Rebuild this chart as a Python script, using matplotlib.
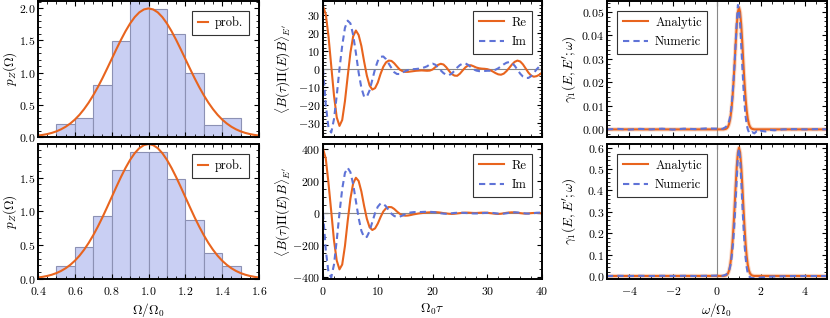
import numpy as np
import matplotlib
matplotlib.use("Agg")
import matplotlib.pyplot as plt
from matplotlib.ticker import MultipleLocator

# ---- data -------------------------------------------------------------
bin_left = [0.5, 0.6, 0.7, 0.8, 0.9, 1.0, 1.1, 1.2, 1.3, 1.4]
hist_top = [0.2, 0.29, 0.8, 1.49, 2.2, 1.99, 1.6, 0.99, 0.19, 0.29]
hist_bot = [0.19, 0.47, 0.93, 1.61, 1.87, 1.87, 1.48, 0.87, 0.39, 0.19]

omega_x = np.arange(0.4, 1.6001, 0.025)
prob = [0.0221, 0.0320, 0.0455, 0.0636, 0.0876, 0.119, 0.159, 0.209, 0.270,
        0.344, 0.432, 0.533, 0.648, 0.775, 0.913, 1.060, 1.210, 1.360, 1.506,
        1.641, 1.761, 1.860, 1.934, 1.979, 1.995, 1.979, 1.934, 1.860, 1.761,
        1.641, 1.506, 1.360, 1.210, 1.060, 0.913, 0.775, 0.648, 0.533, 0.432,
        0.344, 0.270, 0.209, 0.159, 0.119, 0.0876, 0.0636, 0.0455, 0.0320, 0.0221]

tau = np.arange(0, 40.01, 0.5)
re_top = [35, 30.6, 18.2, 1.7, -14.8, -27, -31.8, -28.5, -18, -4.2,
          9.1, 18.2, 21.5, 19, 12.9, 4.2, -3.7, -9.2, -11.5, -10.7,
          -7.6, -2.8, 1.2, 3.7, 4.7, 4.5, 3.2, 1.4, -0.3, -1.2,
          -1.6, -1.6, -1.4, -1.2, -1.0, -0.9, -0.8, -0.9, -1.0, -0.9,
          -0.3, 1.0, 2.3, 2.9, 2.5, 1.0, -1.0, -2.8, -3.7, -3.8,
          -2.6, -0.8, 0.9, 2.0, 2.1, 1.5, 0.8, 0.4, 0.2, 0.1,
          -0.1, -0.6, -1.4, -2.3, -3.0, -3.2, -2.6, -1.2, 0.6, 2.5,
          4.0, 4.7, 4.2, 2.6, 0.3, -2.0, -3.7, -4.3, -4.0, -3.2, -2.0]
im_top = [0, -20, -33, -35.5, -28, -15, 0, 13, 23, 27,
          25.5, 19, 9, -2, -10.5, -15.5, -15.5, -12, -6, 0,
          4.5, 6.8, 7, 5.5, 3, 0.5, -1.8, -2.8, -2.8, -2.0,
          -1.2, -0.6, -0.3, -0.1, 0, 0.2, 0.5, 0.9, 1.5, 2.6,
          3.0, 2.4, 0.9, -0.8, -2.3, -3.2, -3.4, -2.6, -1.0, 0.8,
          2.2, 3.0, 3.1, 2.3, 1.0, -0.2, -0.9, -1.2, -1.2, -1.1,
          -1.0, -1.0, -0.9, -0.4, 0.4, 1.5, 2.6, 3.5, 3.9, 3.4,
          1.8, -0.4, -2.6, -4.2, -5.0, -5.0, -4.0, -2.2, -0.2, 1.4, 2.3]
re_bot = [400, 340, 185, 10, -170, -295, -350, -320, -205, -50,
          90, 185, 220, 200, 135, 45, -35, -88, -105, -95,
          -65, -25, 10, 30, 38, 37, 26, 10, -4, -13,
          -16, -15, -12, -8, -5, -2, 0, 2, 4, 5,
          6, 6, 5, 3, 0, -2, -4, -5, -4, -2,
          0, 2, 3, 3, 2, 1, 1, 2, 3, 3,
          2, 0, -2, -4, -5, -4, -1, 2, 4, 5,
          4, 2, 0, -2, -3, -2, 0, 1, 1, 0, -1]
im_bot = [0, -230, -370, -400, -320, -170, 0, 150, 250, 282,
          255, 180, 75, -30, -110, -150, -148, -112, -55, 0,
          40, 60, 58, 42, 18, -4, -18, -24, -22, -15,
          -7, 0, 4, 6, 7, 7, 7, 8, 8, 8,
          7, 5, 2, -1, -3, -4, -3, -1, 1, 2,
          3, 2, 1, 0, -1, -2, -2, -1, 0, 1,
          2, 2, 1, -1, -3, -4, -3, -1, 2, 4,
          5, 4, 2, 0, -2, -3, -2, 0, 2, 3, 2]

w_an = [-5, 0.3, 0.35, 0.4, 0.45, 0.5, 0.55, 0.6, 0.65, 0.7, 0.75, 0.8, 0.85,
        0.9, 0.95, 1.0, 1.05, 1.1, 1.15, 1.2, 1.25, 1.3, 1.35, 1.4, 1.45, 1.5,
        1.55, 1.6, 1.65, 1.7, 5]
an_top = [0, 0, 0.0001, 0.0002, 0.0005, 0.0011, 0.0023, 0.0044, 0.0079, 0.0130,
          0.0198, 0.0280, 0.0368, 0.0446, 0.0500, 0.0520, 0.0500, 0.0446, 0.0368,
          0.0280, 0.0198, 0.0130, 0.0079, 0.0044, 0.0023, 0.0011, 0.0005, 0.0002,
          0.0001, 0, 0]
an_bot = [0, 0.0003, 0.0012, 0.0023, 0.0056, 0.0126, 0.026, 0.051, 0.091, 0.149,
          0.229, 0.323, 0.424, 0.514, 0.577, 0.600, 0.577, 0.514, 0.424, 0.323,
          0.229, 0.149, 0.091, 0.051, 0.026, 0.0126, 0.0056, 0.0023, 0.0012,
          0.0003, 0]

w_num = [-5, -4.5, -4, -3.5, -3, -2.5, -2, -1.5, -1, -0.5, 0, 0.25, 0.4, 0.5,
         0.55, 0.6, 0.65, 0.7, 0.75, 0.8, 0.85, 0.9, 0.95, 1.0, 1.05, 1.1, 1.15,
         1.2, 1.25, 1.3, 1.35, 1.4, 1.45, 1.5, 1.6, 1.7, 1.8, 1.9, 2.0, 2.2, 2.4,
         2.6, 3, 3.5, 4, 4.5, 5]
num_top = [0.0, 0.0002, -0.0001, 0.0002, 0.0, 0.0003, -0.0001, 0.0003, 0.0001,
           0.0004, 0.0003, 0.0002, 0.001, 0.0022, 0.0035, 0.0055, 0.009, 0.014,
           0.0205, 0.028, 0.037, 0.046, 0.053, 0.051, 0.045, 0.036, 0.027, 0.018,
           0.011, 0.0055, 0.002, 0.0, -0.0012, -0.0018, -0.0012, -0.0017, -0.0008,
           -0.0014, -0.0006, -0.0009, -0.0002, -0.0004, 0.0, 0.0001, 0.0, 0.0001, 0.0]
num_bot = [0, 0.001, 0, 0.001, 0, 0.001, 0, 0.001, 0.0, 0.001, 0.002, 0.001,
           0.006, 0.014, 0.025, 0.045, 0.075, 0.12, 0.18, 0.26, 0.36, 0.46, 0.56,
           0.595, 0.55, 0.45, 0.34, 0.24, 0.15, 0.085, 0.04, 0.012, 0.0, -0.007,
           -0.01, -0.01, -0.009, -0.008, -0.007, -0.005, -0.003, -0.002, -0.001,
           0, 0, 0, 0]

# ---- style ------------------------------------------------------------
plt.rcParams['font.family'] = 'serif'
plt.rcParams['font.serif'] = ['cmr10', 'DejaVu Serif']
plt.rcParams['mathtext.fontset'] = 'cm'
plt.rcParams['axes.formatter.use_mathtext'] = True
plt.rcParams['font.size'] = 9

ORANGE = '#e8641e'
BLUE = '#5f73d7'
BAR = '#c9cff3'
BAREDGE = '#8c91b4'
TICKFS = 8.5
LABFS = 9.5
LEGFS = 9

fig = plt.figure(figsize=(8.3, 3.18), dpi=100)
xs = [0.0458, 0.3892, 0.7313]
ws = [0.2663, 0.2639, 0.2651]
ys = [0.5692, 0.1226]
hs = [0.4277, 0.4245]
axes = [[fig.add_axes([xs[c], ys[r], ws[c], hs[r]]) for c in range(3)] for r in range(2)]


def style(ax, xmaj, xmin, ymaj, ymin):
    ax.xaxis.set_major_locator(MultipleLocator(xmaj))
    ax.xaxis.set_minor_locator(MultipleLocator(xmin))
    ax.yaxis.set_major_locator(MultipleLocator(ymaj))
    ax.yaxis.set_minor_locator(MultipleLocator(ymin))
    ax.tick_params(which='both', direction='in', top=True, right=True,
                   labelsize=TICKFS)
    ax.tick_params(axis='y', pad=2)
    ax.tick_params(axis='x', pad=4.5)
    ax.tick_params(which='major', length=3.5, width=0.8)
    ax.tick_params(which='minor', length=2, width=0.6)
    for s in ax.spines.values():
        s.set_linewidth(1.4)


def legend(ax, loc, hl):
    lg = ax.legend(loc=loc, fontsize=LEGFS, fancybox=False, framealpha=1,
                   edgecolor='#333333', handlelength=hl, borderpad=0.45,
                   labelspacing=0.6, handletextpad=0.6, borderaxespad=0.8)
    lg.get_frame().set_linewidth(0.8)


# left column: histograms
for r, heights in enumerate([hist_top, hist_bot]):
    ax = axes[r][0]
    ax.bar(bin_left, heights, width=0.1, align='edge', color=BAR,
           edgecolor=BAREDGE, linewidth=0.8)
    ax.plot(omega_x, prob, color=ORANGE, lw=1.5, label='prob.')
    ax.set_xlim(0.4, 1.6)
    ax.set_ylim(0, 2.11 if r == 0 else 1.995)
    style(ax, 0.2, 0.05, 0.5, 0.1)
    ax.set_ylabel(r'$p_Z(\Omega)$', fontsize=LABFS)
    ax.yaxis.set_label_coords(-0.088, 0.5)
    legend(ax, 'upper right', 0.8)

# middle column: correlators
for r, (re, im) in enumerate([(re_top, im_top), (re_bot, im_bot)]):
    ax = axes[r][1]
    ax.axhline(0, color='#888888', lw=0.8)
    ax.plot(tau, re, color=ORANGE, lw=1.5, label='Re')
    ax.plot(tau, im, color=BLUE, lw=1.5, ls=(0, (3, 2)), label='Im')
    ax.set_xlim(0, 40)
    if r == 0:
        ax.set_ylim(-38, 38)
        style(ax, 10, 2, 10, 2)
    else:
        ax.set_ylim(-410, 430)
        style(ax, 10, 2, 200, 50)
    ax.set_ylabel(r'$\langle B(\tau)\Pi(E)B\rangle_{E^{\prime}}$', fontsize=LABFS)
    ax.yaxis.set_label_coords(-0.138, 0.5)
    legend(ax, 'upper right', 2.0)

# right column: rates
for r, (an, num) in enumerate([(an_top, num_top), (an_bot, num_bot)]):
    ax = axes[r][2]
    ax.axvline(0, color='#888888', lw=0.8)
    ax.plot(w_an, an, color=ORANGE, lw=3.0, alpha=0.25)
    ax.plot(w_an, an, color=ORANGE, lw=1.5, label='Analytic')
    ax.plot(w_num, num, color=BLUE, lw=1.5, ls=(0, (3, 2)), label='Numeric')
    ax.set_xlim(-5, 5)
    if r == 0:
        ax.set_ylim(-0.00325, 0.0547)
        style(ax, 2, 0.5, 0.01, 0.002)
    else:
        ax.set_ylim(-0.014, 0.617)
        style(ax, 2, 0.5, 0.1, 0.02)
    ax.set_ylabel(r'$\gamma_1(E,E^{\prime};\omega)$', fontsize=LABFS)
    ax.yaxis.set_label_coords(-0.13, 0.5)
    legend(ax, 'upper left', 2.0)

for c in range(3):
    axes[0][c].tick_params(labelbottom=False)

axes[1][0].set_xlabel(r'$\Omega/\Omega_0$', fontsize=LABFS, labelpad=3)
axes[1][1].set_xlabel(r'$\Omega_0\tau$', fontsize=LABFS, labelpad=3)
axes[1][2].set_xlabel(r'$\omega/\Omega_0$', fontsize=LABFS, labelpad=3)

fig.savefig('out.png', dpi=100)
